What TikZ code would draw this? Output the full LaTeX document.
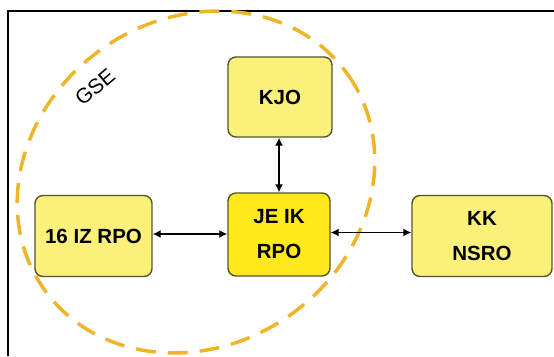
\documentclass[tikz,border=0pt]{standalone}
\usepackage{fontspec}
\setmainfont{Liberation Sans}
\usepackage{tikz}
\usetikzlibrary{arrows,arrows.meta}

\definecolor{boxfill}{HTML}{FAF07A}
\definecolor{corefill}{HTML}{FFE81C}
\definecolor{boxline}{HTML}{55552A}
\definecolor{gseline}{HTML}{F0B428}

\begin{document}
\begin{tikzpicture}[x=1pt,y=-1pt,<->,>={Latex[length=8pt,width=8pt]},semithick,
  unit node/.style={rectangle,rounded corners=8pt,fill=boxfill,draw=boxline,line width=1.4pt,
    minimum height=81pt,align=center,font=\fontsize{20.5}{35}\selectfont\bfseries},
  core node/.style={unit node,fill=corefill,minimum height=83pt},
  gse line/.style={draw=gseline,line width=3.5pt,dash pattern=on 20pt off 12pt,-}]

  \useasboundingbox (0,0) rectangle (554,356);
  \draw[-,line width=2pt] (8,356) -- (8,11) -- (554,11);

  \draw[gse line] (196,182) circle[x radius=186,y radius=163,rotate=35];
  \node[rotate=40,inner sep=0pt,font=\fontsize{21}{21}\selectfont] (gse) at (95,87) {GSE};

  \node[core node,minimum width=102pt] (jeik) at (279,234.5) {JE IK\\RPO};
  \node[unit node,minimum width=104pt,minimum height=80pt] (kjo) at (280,97) {KJO};
  \node[unit node,minimum width=117pt] (iz) at (93.5,236) {16 IZ RPO};
  \node[unit node,minimum width=140pt] (nsro) at (482,236) {KK\\NSRO};

  \path[line width=1.4pt]
    (kjo.south -| jeik.north) edge (jeik.north)
    ([yshift=2pt]iz.east) edge ([yshift=2pt]iz.east -| jeik.west)
    ([yshift=3.5pt]nsro.west -| jeik.east) edge ([yshift=3.5pt]nsro.west)
    ;

\end{tikzpicture}
\end{document}
